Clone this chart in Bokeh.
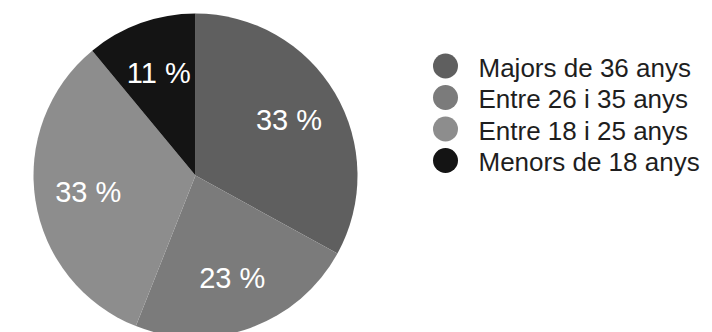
import math
from bokeh.plotting import figure
from bokeh.models import Range1d, ColumnDataSource
from bokeh.core.properties import value
from bokeh.embed import file_html
from bokeh.resources import INLINE

# ---- data ----
categories = ["Majors de 36 anys", "Entre 26 i 35 anys", "Entre 18 i 25 anys", "Menors de 18 anys"]
percentages = [33, 23, 33, 11]
colors = ["#5f5f5f", "#7b7b7b", "#8d8d8d", "#141414"]

# ---- layout (pixel-like data coordinates, y up) ----
W, H = 712, 332
X0, Y0 = 0, 0
IMG_H = 332
cx, cy_img, R = 195, 175, 162
cy = IMG_H - cy_img

p = figure(width=W, height=H, output_backend="svg", toolbar_location=None,
           x_range=Range1d(X0, X0 + W), y_range=Range1d(IMG_H - Y0 - H, IMG_H - Y0),
           min_border=0)
p.axis.visible = False
p.grid.visible = False
p.outline_line_color = None
p.background_fill_color = "white"
p.border_fill_color = "white"

total = sum(percentages)
starts, ends, lx, ly, labels = [], [], [], [], []
cum = 0.0
for v in percentages:
    a0 = math.pi / 2 - 2 * math.pi * cum / total
    a1 = math.pi / 2 - 2 * math.pi * (cum + v) / total
    starts.append(a0)
    ends.append(a1)
    mid = (a0 + a1) / 2
    lx.append(cx + 0.67 * R * math.cos(mid))
    ly.append(cy + 0.67 * R * math.sin(mid))
    labels.append(f"{v} %")
    cum += v

src = ColumnDataSource(dict(start=starts, end=ends, color=colors, x=[cx] * 4, y=[cy] * 4))
p.wedge(x="x", y="y", radius=R, start_angle="start", end_angle="end",
        direction="clock", fill_color="color", line_color=None, source=src)

p.text(x=lx, y=ly, text=labels, text_color="white", text_font=value("Liberation Sans"),
       text_font_size="29px", text_align="center", text_baseline="middle")

# ---- legend ----
leg_x, leg_y0, leg_dy = 445, 65.5, 31.5
leg_ys = [IMG_H - (leg_y0 + i * leg_dy) for i in range(len(categories))]
p.scatter(x=[leg_x] * len(categories), y=leg_ys, size=25, marker="circle",
          fill_color=colors, line_color=None)
p.text(x=[leg_x + 33] * len(categories), y=[yy - 1.5 for yy in leg_ys], text=categories,
       text_color="#1e1e1e", text_font=value("Liberation Sans"), text_font_size="26px",
       text_align="left", text_baseline="middle")

open("out.html", "w").write(file_html(p, INLINE))
